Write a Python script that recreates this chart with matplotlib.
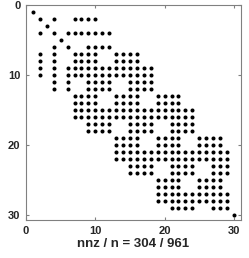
import numpy as np
import matplotlib.pyplot as plt

plt.rcParams['font.family'] = ['Liberation Sans', 'DejaVu Sans']

n = 31
# nonzero columns of each row (symmetric pattern)
rowCols = {
    1: [1],
    2: [2, 4, 7, 8, 9, 10],
    3: [3],
    4: [2, 4, 6, 7, 8, 9, 10, 11, 12],
    5: [5],
    6: [4, 6, 9, 10, 11, 12],
    7: [2, 4, 7, 8, 9, 10, 13, 14, 15, 16],
    8: [2, 4, 7, 8, 9, 10, 13, 14, 15, 16],
    9: [2, 4] + list(range(6, 19)),
    10: [2, 4] + list(range(6, 19)),
    11: [4, 6, 9, 10, 11, 12, 15, 16, 17, 18],
    12: [4, 6, 9, 10, 11, 12, 15, 16, 17, 18],
    13: [7, 8, 9, 10, 13, 14, 15, 16, 19, 20, 21, 22],
    14: [7, 8, 9, 10, 13, 14, 15, 16, 19, 20, 21, 22],
    15: list(range(7, 25)),
    16: list(range(7, 25)),
    17: [9, 10, 11, 12, 15, 16, 17, 18, 21, 22, 23, 24],
    18: [9, 10, 11, 12, 15, 16, 17, 18, 21, 22, 23, 24],
    19: [13, 14, 15, 16, 19, 20, 21, 22, 25, 26, 27, 28],
    20: [13, 14, 15, 16, 19, 20, 21, 22, 25, 26, 27, 28],
    21: list(range(13, 30)),
    22: list(range(13, 30)),
    23: [15, 16, 17, 18, 21, 22, 23, 24, 27, 28, 29],
    24: [15, 16, 17, 18, 21, 22, 23, 24, 27, 28, 29],
    25: [19, 20, 21, 22, 25, 26, 27, 28],
    26: [19, 20, 21, 22, 25, 26, 27, 28],
    27: list(range(19, 30)),
    28: list(range(19, 30)),
    29: [21, 22, 23, 24, 27, 28, 29],
    30: [30],
}

rows = []
cols = []
for r in rowCols:
    for c in rowCols[r]:
        rows.append(r)
        cols.append(c)
nnz = len(rows)

fig = plt.figure(figsize=(2.49, 2.58), dpi=100)
ax = fig.add_axes([26/249, 1-220/258, (240.5-26)/249, (220-5)/258])
ax.plot(cols, rows, 'o', color='black', markersize=2.9, markeredgewidth=0)
ax.set_xlim(0, 30.95)
ax.set_ylim(30.7, 0)
ax.set_xticks([0, 10, 20, 30])
ax.set_yticks([0, 10, 20, 30])
for s in ax.spines.values():
    s.set_color('#808080')
    s.set_linewidth(0.8)
ax.tick_params(direction='in', length=2.5, width=0.8, color='#808080',
               top=True, right=True, labelsize=8, labelcolor='#262626', pad=4)
for lab in ax.get_xticklabels() + ax.get_yticklabels():
    lab.set_fontweight('bold')
ax.set_xlabel('nnz / n = %d / %d' % (nnz, n * n), fontsize=9.5,
              fontweight='bold', color='#262626', labelpad=2)
plt.savefig('out.png', dpi=100)
